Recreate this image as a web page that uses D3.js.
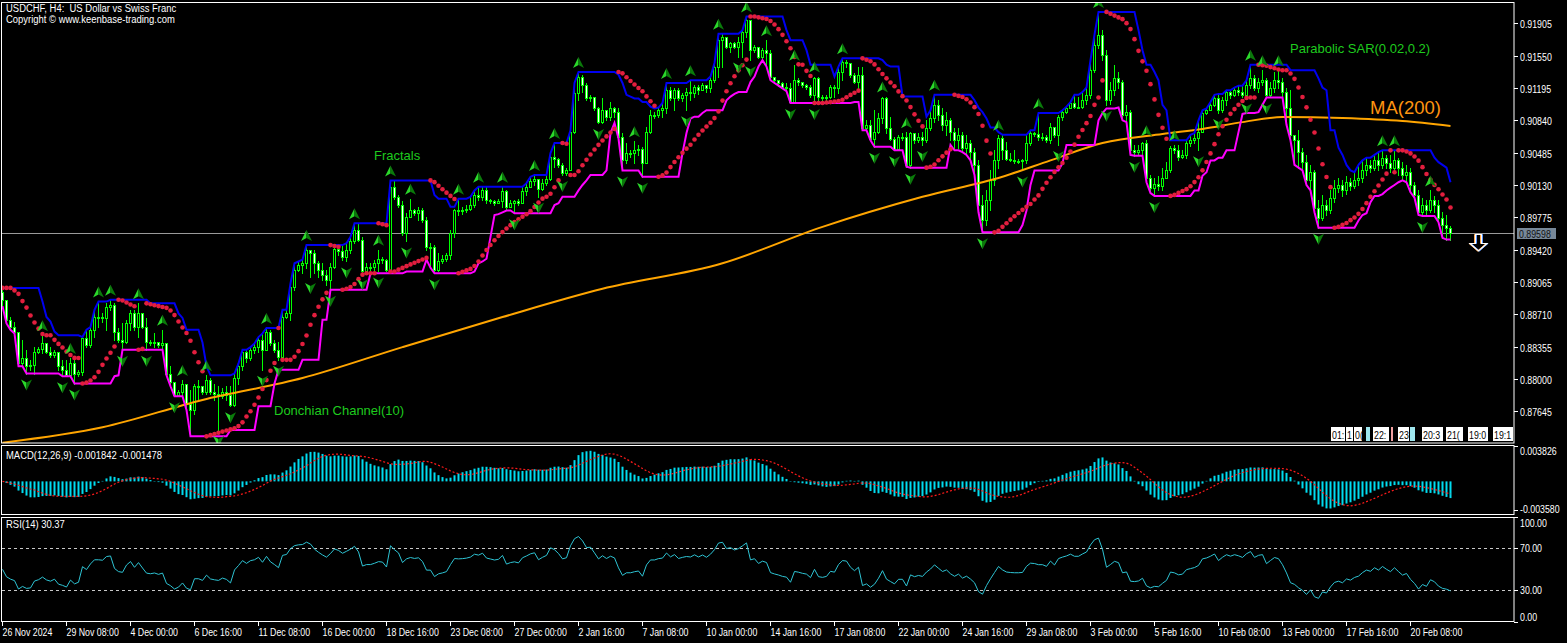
<!DOCTYPE html>
<html><head><meta charset="utf-8">
<script src="https://cdn.jsdelivr.net/npm/d3@7"></script>
<style>html,body{margin:0;padding:0;background:#000;}svg{display:block;}</style>
</head><body>
<svg id="c" width="1567" height="643"></svg>
<script>
// ---------------- DATA ----------------
const firstOpen = 0.8895;
const closes = [0.8887,0.8865,0.8857,0.8852,0.8817,0.8823,0.8814,0.8815,0.8830,0.8833,
0.8839,0.8830,0.8826,0.8830,0.8814,0.8810,0.8804,0.8817,0.8805,0.8808,
0.8845,0.8837,0.8854,0.8868,0.8868,0.8867,0.8879,0.8881,0.8852,0.8843,
0.8841,0.8861,0.8872,0.8857,0.8872,0.8857,0.8841,0.8839,0.8841,0.8837,
0.8840,0.8806,0.8797,0.8782,0.8786,0.8795,0.8773,0.8766,0.8792,0.8792,
0.8786,0.8799,0.8786,0.8783,0.8781,0.8786,0.8782,0.8771,0.8801,0.8814,
0.8830,0.8823,0.8832,0.8835,0.8843,0.8832,0.8852,0.8839,0.8832,0.8824,
0.8868,0.8872,0.8901,0.8920,0.8925,0.8927,0.8942,0.8938,0.8927,0.8920,
0.8914,0.8909,0.8923,0.8943,0.8940,0.8934,0.8942,0.8951,0.8964,0.8953,
0.8918,0.8923,0.8923,0.8927,0.8932,0.8931,0.8920,0.9011,0.9000,0.8991,
0.8960,0.8978,0.8985,0.8982,0.8985,0.8974,0.8945,0.8945,0.8920,0.8929,
0.8932,0.8936,0.8960,0.8985,0.8984,0.8985,0.8987,0.8991,0.9002,0.9000,
0.9007,0.8997,0.8995,0.8993,0.8995,0.9006,0.8989,0.8993,0.8995,0.8993,
0.9006,0.9011,0.9017,0.9020,0.9009,0.9015,0.9020,0.9044,0.9041,0.9035,
0.9026,0.9029,0.9071,0.9114,0.9132,0.9123,0.9108,0.9110,0.9097,0.9082,
0.9095,0.9088,0.9097,0.9093,0.9066,0.9040,0.9048,0.9048,0.9051,0.9053,
0.9037,0.9071,0.9090,0.9090,0.9095,0.9097,0.9117,0.9108,0.9117,0.9108,
0.9112,0.9115,0.9114,0.9121,0.9117,0.9123,0.9119,0.9128,0.9143,0.9172,
0.9176,0.9165,0.9169,0.9165,0.9170,0.9181,0.9194,0.9161,0.9165,0.9154,
0.9161,0.9158,0.9132,0.9128,0.9125,0.9121,0.9119,0.9104,0.9128,0.9126,
0.9123,0.9121,0.9112,0.9130,0.9110,0.9108,0.9110,0.9121,0.9119,0.9137,
0.9148,0.9147,0.9134,0.9126,0.9134,0.9075,0.9079,0.9064,0.9071,0.9086,
0.9108,0.9075,0.9064,0.9053,0.9066,0.9066,0.9035,0.9070,0.9062,0.9066,
0.9062,0.9076,0.9086,0.9101,0.9090,0.9079,0.9084,0.9071,0.9062,0.9068,
0.9054,0.9059,0.9049,0.9035,0.8991,0.8974,0.8997,0.9018,0.9040,0.9065,
0.9051,0.9042,0.9040,0.9039,0.9039,0.9040,0.9059,0.9070,0.9069,0.9066,
0.9066,0.9062,0.9077,0.9068,0.9088,0.9093,0.9097,0.9103,0.9099,0.9099,
0.9106,0.9112,0.9139,0.9167,0.9178,0.9156,0.9106,0.9117,0.9130,0.9126,
0.9090,0.9093,0.9051,0.9049,0.9051,0.9059,0.9021,0.9010,0.9014,0.9012,
0.9021,0.9029,0.9054,0.9051,0.9044,0.9046,0.9059,0.9062,0.9065,0.9071,
0.9092,0.9095,0.9101,0.9109,0.9095,0.9106,0.9115,0.9112,0.9117,0.9115,
0.9112,0.9123,0.9130,0.9120,0.9126,0.9128,0.9112,0.9120,0.9128,0.9126,
0.9115,0.9097,0.9068,0.9062,0.9049,0.9038,0.9018,0.9027,0.8988,0.8977,
0.8991,0.8985,0.8999,0.9010,0.9013,0.9007,0.9016,0.9012,0.9018,0.9021,
0.9029,0.9035,0.9032,0.9040,0.9035,0.9043,0.9037,0.9032,0.9040,0.9032,
0.9024,0.9027,0.9013,0.9002,0.8983,0.8991,0.8985,0.8997,0.8991,0.8977,
0.8969,0.8966,0.89598];
const highs = [0.8900,0.8885,0.8868,0.8863,0.8852,0.8843,0.8832,0.8821,0.8835,0.8835,
0.8848,0.8839,0.8835,0.8832,0.8828,0.8821,0.8821,0.8823,0.8821,0.8810,
0.8846,0.8854,0.8857,0.8876,0.8885,0.8872,0.8883,0.8887,0.8883,0.8856,
0.8861,0.8865,0.8876,0.8876,0.8883,0.8872,0.8867,0.8843,0.8850,0.8841,
0.8854,0.8840,0.8814,0.8797,0.8788,0.8799,0.8795,0.8788,0.8795,0.8799,
0.8792,0.8804,0.8801,0.8795,0.8792,0.8790,0.8792,0.8792,0.8806,0.8817,
0.8832,0.8832,0.8835,0.8839,0.8846,0.8850,0.8856,0.8854,0.8843,0.8841,
0.8876,0.8876,0.8905,0.8927,0.8929,0.8931,0.8947,0.8942,0.8942,0.8929,
0.8927,0.8920,0.8927,0.8945,0.8945,0.8947,0.8949,0.8956,0.8971,0.8971,
0.8956,0.8927,0.8927,0.8931,0.8942,0.8934,0.8932,0.9018,0.9018,0.9002,
0.8995,0.8982,0.8998,0.8987,0.8989,0.8988,0.8978,0.8949,0.8947,0.8938,
0.8936,0.8938,0.8964,0.8987,0.8998,0.8989,0.8991,0.9000,0.9007,0.9011,
0.9011,0.9011,0.8998,0.8997,0.8998,0.9011,0.9007,0.8997,0.8997,0.8998,
0.9011,0.9015,0.9022,0.9024,0.9020,0.9020,0.9024,0.9048,0.9059,0.9043,
0.9037,0.9032,0.9073,0.9125,0.9137,0.9134,0.9125,0.9112,0.9110,0.9099,
0.9108,0.9095,0.9104,0.9099,0.9097,0.9070,0.9059,0.9051,0.9061,0.9057,
0.9055,0.9077,0.9095,0.9093,0.9098,0.9103,0.9125,0.9121,0.9119,0.9119,
0.9114,0.9119,0.9128,0.9123,0.9123,0.9125,0.9123,0.9132,0.9147,0.9179,
0.9179,0.9174,0.9170,0.9170,0.9176,0.9183,0.9198,0.9183,0.9167,0.9165,
0.9163,0.9172,0.9161,0.9131,0.9128,0.9126,0.9125,0.9125,0.9145,0.9130,
0.9126,0.9124,0.9123,0.9132,0.9132,0.9112,0.9112,0.9123,0.9123,0.9143,
0.9152,0.9150,0.9145,0.9136,0.9143,0.9143,0.9084,0.9084,0.9095,0.9092,
0.9110,0.9110,0.9088,0.9066,0.9068,0.9070,0.9071,0.9071,0.9066,0.9070,
0.9071,0.9084,0.9095,0.9112,0.9106,0.9098,0.9093,0.9086,0.9076,0.9076,
0.9071,0.9068,0.9062,0.9054,0.9040,0.9002,0.9007,0.9029,0.9051,0.9068,
0.9068,0.9060,0.9048,0.9051,0.9042,0.9042,0.9068,0.9073,0.9071,0.9092,
0.9070,0.9068,0.9081,0.9077,0.9090,0.9095,0.9099,0.9104,0.9112,0.9110,
0.9115,0.9120,0.9150,0.9178,0.9203,0.9183,0.9161,0.9126,0.9145,0.9137,
0.9128,0.9101,0.9095,0.9057,0.9057,0.9060,0.9062,0.9024,0.9021,0.9023,
0.9032,0.9038,0.9056,0.9057,0.9057,0.9051,0.9062,0.9068,0.9070,0.9084,
0.9095,0.9097,0.9104,0.9112,0.9113,0.9110,0.9117,0.9117,0.9120,0.9122,
0.9122,0.9128,0.9145,0.9134,0.9130,0.9139,0.9130,0.9126,0.9137,0.9139,
0.9130,0.9120,0.9117,0.9068,0.9073,0.9054,0.9046,0.9035,0.9029,0.8997,
0.9002,0.8997,0.9007,0.9018,0.9021,0.9018,0.9023,0.9021,0.9027,0.9035,
0.9040,0.9043,0.9040,0.9046,0.9049,0.9051,0.9046,0.9046,0.9051,0.9043,
0.9038,0.9035,0.9032,0.9016,0.9007,0.8999,0.8997,0.9007,0.9001,0.8997,
0.8983,0.8980,0.8968];
const lows = [0.8880,0.8861,0.8854,0.8850,0.8814,0.8815,0.8806,0.8810,0.8806,0.8828,
0.8828,0.8828,0.8824,0.8824,0.8810,0.8803,0.8803,0.8803,0.8795,0.8803,
0.8804,0.8835,0.8835,0.8846,0.8857,0.8863,0.8854,0.8876,0.8843,0.8841,
0.8832,0.8839,0.8854,0.8854,0.8846,0.8856,0.8832,0.8837,0.8835,0.8835,
0.8834,0.8804,0.8792,0.8781,0.8781,0.8781,0.8766,0.8737,0.8762,0.8777,
0.8784,0.8784,0.8784,0.8777,0.8744,0.8779,0.8777,0.8770,0.8770,0.8795,
0.8810,0.8819,0.8821,0.8828,0.8830,0.8810,0.8832,0.8837,0.8830,0.8821,
0.8821,0.8867,0.8865,0.8898,0.8918,0.8916,0.8922,0.8912,0.8916,0.8912,
0.8909,0.8903,0.8898,0.8922,0.8936,0.8931,0.8929,0.8938,0.8949,0.8951,
0.8916,0.8916,0.8920,0.8920,0.8918,0.8927,0.8918,0.8931,0.8998,0.8989,
0.8958,0.8951,0.8978,0.8980,0.8974,0.8972,0.8942,0.8922,0.8916,0.8918,
0.8927,0.8929,0.8932,0.8956,0.8980,0.8981,0.8983,0.8985,0.8989,0.8997,
0.8997,0.8993,0.8993,0.8991,0.8993,0.8989,0.8985,0.8989,0.8982,0.8991,
0.8993,0.9002,0.9011,0.9013,0.9000,0.9007,0.9013,0.9018,0.9033,0.9033,
0.9024,0.9024,0.9029,0.9070,0.9106,0.9115,0.9106,0.9105,0.9095,0.9081,
0.9081,0.9084,0.9084,0.9088,0.9064,0.9029,0.9037,0.9044,0.9037,0.9046,
0.9022,0.9048,0.9070,0.9086,0.9088,0.9088,0.9092,0.9106,0.9095,0.9106,
0.9105,0.9095,0.9106,0.9110,0.9113,0.9117,0.9115,0.9115,0.9126,0.9132,
0.9143,0.9163,0.9159,0.9163,0.9154,0.9154,0.9176,0.9150,0.9159,0.9152,
0.9152,0.9143,0.9128,0.9125,0.9122,0.9119,0.9116,0.9103,0.9103,0.9123,
0.9121,0.9118,0.9110,0.9103,0.9106,0.9104,0.9105,0.9108,0.9110,0.9114,
0.9128,0.9143,0.9132,0.9125,0.9117,0.9073,0.9073,0.9062,0.9055,0.9070,
0.9081,0.9070,0.9062,0.9051,0.9051,0.9062,0.9033,0.9032,0.9059,0.9060,
0.9057,0.9060,0.9073,0.9082,0.9084,0.9073,0.9068,0.9062,0.9051,0.9054,
0.9049,0.9046,0.9040,0.9024,0.8983,0.8961,0.8969,0.8985,0.9013,0.9032,
0.9042,0.9040,0.9039,0.9037,0.9037,0.9029,0.9037,0.9057,0.9067,0.9062,
0.9062,0.9060,0.9059,0.9066,0.9057,0.9084,0.9092,0.9097,0.9097,0.9097,
0.9098,0.9102,0.9109,0.9137,0.9163,0.9150,0.9101,0.9102,0.9112,0.9120,
0.9084,0.9082,0.9046,0.9045,0.9046,0.9046,0.9016,0.9004,0.9001,0.9007,
0.9007,0.9023,0.9027,0.9048,0.9040,0.9043,0.9043,0.9056,0.9059,0.9051,
0.9071,0.9091,0.9095,0.9100,0.9092,0.9093,0.9101,0.9109,0.9111,0.9112,
0.9110,0.9109,0.9120,0.9117,0.9115,0.9123,0.9109,0.9111,0.9115,0.9120,
0.9111,0.9079,0.9062,0.9035,0.9032,0.9029,0.9013,0.9007,0.8983,0.8966,
0.8974,0.8980,0.8982,0.8994,0.9005,0.9001,0.9003,0.9007,0.9010,0.9013,
0.9016,0.9024,0.9027,0.9029,0.9029,0.9032,0.9032,0.9027,0.9029,0.9024,
0.9018,0.9016,0.9005,0.8999,0.8980,0.8979,0.8980,0.8983,0.8983,0.8972,
0.8955,0.8953,0.8953];
// MA(200) at these bar indices
const maBars = [0,25,50,75,100,125,150,180,205,230,250,262,275,290,300,310,320,335,350,362];
const maValues = [0.8730,0.8747,0.8777,0.8801,0.8835,0.8868,0.8899,0.8927,0.8967,0.9000,0.9022,0.9040,0.9059,0.9069,0.90745,0.9082,0.90876,0.90865,0.90832,0.90778];
const priceTicks = [0.91905,0.91550,0.91195,0.90840,0.90485,0.90130,0.89775,0.89420,0.89065,0.88710,0.88355,0.88000,0.87645];
const macdTicks = [0.003826,-0.003580];
const rsiTicks = [100,70,30,0];
const timeLabels = ["26 Nov 2024","29 Nov 08:00","4 Dec 00:00","6 Dec 16:00","11 Dec 08:00","16 Dec 00:00","18 Dec 16:00","23 Dec 08:00","27 Dec 00:00","2 Jan 16:00","7 Jan 08:00","10 Jan 00:00","14 Jan 16:00","17 Jan 08:00","22 Jan 00:00","24 Jan 16:00","29 Jan 08:00","3 Feb 00:00","5 Feb 16:00","10 Feb 08:00","13 Feb 00:00","17 Feb 16:00","20 Feb 08:00"];
const lastPrice = 0.89598;
const eventLabels = [["01:",1331,1345],["1",1346,1353],["0(",1354,1362],["",1366,1370,"#9fe7ef"],["22:",1373,1389],["",1391,1393,"#f2a0a0"],["23(",1398,1409],["",1410,1415,"#9fe7ef"],["20:3",1422,1443],["21(",1446,1463],["19:0",1468,1488],["19:1",1493,1513]];

// ---------------- LAYOUT ----------------
const FS = "'Liberation Sans',Arial,sans-serif";
const R = 1514;
const svg = d3.select('#c');
svg.append('rect').attr('width',1567).attr('height',643).attr('fill','#000');
const defs = svg.append('defs');
defs.append('clipPath').attr('id','cm').append('rect').attr('x',2).attr('y',3).attr('width',R-2).attr('height',440);
defs.append('clipPath').attr('id','cd').append('rect').attr('x',2).attr('y',446).attr('width',R-2).attr('height',68);
defs.append('clipPath').attr('id','cr').append('rect').attr('x',2).attr('y',518).attr('width',R-2).attr('height',103);

// condensed text helper (MT4 uses a narrow bitmap font)
function ctext(tx, ty, str, fill, size, sx){
  return svg.append('text').attr('transform',`translate(${tx},${ty}) scale(${sx||0.8},1)`)
    .attr('x',0).attr('y',0).text(str).attr('fill',fill).attr('font-family',FS).attr('font-size',size||11);
}

const n = closes.length;
const x = d3.scaleLinear().domain([0,1]).range([2.5,6.5]);
const y = d3.scaleLinear().domain([0.87645,0.91905]).range([411.3,23.3]);
const my = d3.scaleLinear().domain([-0.003580,0.003826]).range([514.5,446]);
const ry = d3.scaleLinear().domain([0,100]).range([621.8,516.8]);

const bars = closes.map((c,i)=>{
  const o = i ? closes[i-1] : firstOpen;
  return {i, o, c, h: Math.max(highs[i],o,c), l: Math.min(lows[i],o,c)};
});

// ---------------- INDICATORS ----------------
const dUp = bars.map((b,i)=> d3.max(highs.slice(Math.max(0,i-9), i+1)));
const dLo = bars.map((b,i)=> d3.min(lows.slice(Math.max(0,i-9), i+1)));
const sar = new Array(n);
{
  let up = false, af = 0.02, ep = lows[0], s = highs[0];
  sar[0] = s;
  for (let i=1;i<n;i++){
    let ns = s + af*(ep - s);
    if (!up){
      ns = Math.max(ns, highs[i-1], i>1?highs[i-2]:highs[i-1]);
      if (highs[i] > ns){ up = true; ns = ep; ep = highs[i]; af = 0.02; }
      else if (lows[i] < ep){ ep = lows[i]; af = Math.min(af+0.02,0.2); }
    } else {
      ns = Math.min(ns, lows[i-1], i>1?lows[i-2]:lows[i-1]);
      if (lows[i] < ns){ up = false; ns = ep; ep = lows[i]; af = 0.02; }
      else if (highs[i] > ep){ ep = highs[i]; af = Math.min(af+0.02,0.2); }
    }
    s = ns; sar[i] = s;
  }
}
const fracUp = [], fracDn = [];
for (let i=2;i<n-2;i++){
  if (highs[i]>highs[i-1] && highs[i]>highs[i-2] && highs[i]>=highs[i+1] && highs[i]>=highs[i+2]) fracUp.push(i);
  if (lows[i]<lows[i-1] && lows[i]<lows[i-2] && lows[i]<=lows[i+1] && lows[i]<=lows[i+2]) fracDn.push(i);
}
const macd = [], sig = [];
{
  let e12 = closes[0], e26 = closes[0];
  closes.forEach((c,i)=>{
    e12 = e12 + (2/13)*(c-e12);
    e26 = e26 + (2/27)*(c-e26);
    macd.push(e12-e26);
    sig.push(d3.mean(macd.slice(Math.max(0,i-8), i+1)));
  });
}
const rsi = [];
{
  const diffs = closes.map((c,i)=> i? c-closes[i-1] : 0);
  const seed = d3.mean(diffs.slice(1,15).map(Math.abs))/2;
  let ag = seed, al = seed;
  closes.forEach((c,i)=>{
    if (i){ const d = diffs[i]; ag = (ag*13+Math.max(d,0))/14; al = (al*13+Math.max(-d,0))/14; }
    rsi.push(100*ag/(ag+al));
  });
}

// ---------------- MAIN PANEL ----------------
const gm = svg.append('g').attr('clip-path','url(#cm)');
gm.append('line').attr('x1',2).attr('x2',R).attr('y1',Math.round(y(lastPrice))+0.5).attr('y2',Math.round(y(lastPrice))+0.5).attr('stroke','#9a9a9a');
gm.selectAll('line.wk').data(bars).join('line').attr('class','wk')
  .attr('x1',d=>x(d.i)).attr('x2',d=>x(d.i)).attr('y1',d=>Math.round(y(d.h))).attr('y2',d=>Math.round(y(d.l))+1)
  .attr('stroke','#00ff00').attr('stroke-width',1);
gm.selectAll('rect.bd').data(bars).join('rect').attr('class','bd')
  .attr('x',d=>x(d.i)-1).attr('width',2)
  .attr('y',d=>Math.round(y(Math.max(d.o,d.c)))+0.5)
  .attr('height',d=>Math.max(1, Math.round(y(Math.min(d.o,d.c)))-Math.round(y(Math.max(d.o,d.c)))))
  .attr('fill',d=>d.c>=d.o?'#000':'#fff').attr('stroke','#00ff00').attr('stroke-width',1);
gm.append('path').datum(maBars.map((b,k)=>[b,maValues[k]]))
  .attr('d',d3.line().x(d=>x(d[0])).y(d=>y(d[1])).curve(d3.curveMonotoneX))
  .attr('fill','none').attr('stroke','#ffa500').attr('stroke-width',2);
const dl = d3.line().x((d,i)=>x(i)).y(d=>y(d));
gm.append('path').datum(dUp).attr('d',dl).attr('fill','none').attr('stroke','#0000f0').attr('stroke-width',2);
gm.append('path').datum(dLo).attr('d',dl).attr('fill','none').attr('stroke','#ff00ff').attr('stroke-width',2);
gm.selectAll('circle.sar').data(sar).join('circle').attr('class','sar')
  .attr('cx',(d,i)=>x(i)).attr('cy',d=>y(d)).attr('r',2.3).attr('fill','#e21e3e');
const fU = gm.selectAll('g.fu').data(fracUp).join('g').attr('class','fu')
  .attr('transform',i=>`translate(${x(i)},${y(highs[i])-9})`);
fU.append('path').attr('d','M0,-6L-5.5,5L0,2Z').attr('fill','#2bd82b');
fU.append('path').attr('d','M0,-6L5.5,5L0,2Z').attr('fill','#0a7a0a');
const fD = gm.selectAll('g.fd').data(fracDn).join('g').attr('class','fd')
  .attr('transform',i=>`translate(${x(i)},${y(lows[i])+11})`);
fD.append('path').attr('d','M0,6L-5.5,-5L0,-2Z').attr('fill','#2bd82b');
fD.append('path').attr('d','M0,6L5.5,-5L0,-2Z').attr('fill','#0a7a0a');

// annotations
svg.append('text').attr('x',374).attr('y',160).text('Fractals').attr('fill','#1ecb1e').attr('font-family',FS).attr('font-size',13);
svg.append('text').attr('x',274).attr('y',415).text('Donchian Channel(10)').attr('fill','#1ecb1e').attr('font-family',FS).attr('font-size',13);
svg.append('text').attr('x',1290).attr('y',53).text('Parabolic SAR(0.02,0.2)').attr('fill','#1ecb1e').attr('font-family',FS).attr('font-size',13);
svg.append('text').attr('x',1370).attr('y',114).text('MA(200)').attr('fill','#ff9410').attr('font-family',FS).attr('font-size',18.5);
ctext(6,11.5,'USDCHF, H4:  US Dollar vs Swiss Franc','#fff',11,0.86).style('white-space','pre');
ctext(6,23,'Copyright © www.keenbase-trading.com','#fff',11,0.86);

// down arrow
const arrowD = 'M1475.5,234.5V243.5H1470L1478.5,251L1487,243.5H1481.5V234.5Z';
svg.append('path').attr('d',arrowD).attr('fill','none').attr('stroke','#4a8cff').attr('transform','translate(1,0)');
svg.append('path').attr('d',arrowD).attr('fill','none').attr('stroke','#ffa040').attr('transform','translate(-1,0)');
svg.append('path').attr('d',arrowD).attr('fill','none').attr('stroke','#fff').attr('stroke-width',1.2);

// event labels bottom-right
eventLabels.forEach(e=>{
  svg.append('rect').attr('x',e[1]).attr('y',427).attr('width',e[2]-e[1]).attr('height',14).attr('fill',e[3]||'#fff');
  if (e[0]) ctext(e[1]+1,438.5,e[0],'#000',11,0.8);
});

// right price axis
priceTicks.forEach(p=>{
  const yy = Math.round(y(p))+0.5;
  svg.append('line').attr('x1',R).attr('x2',R+4).attr('y1',yy).attr('y2',yy).attr('stroke','#fff');
  ctext(R+6,yy+4,p.toFixed(5),'#fff',11,0.8);
});
{
  const yy = Math.round(y(lastPrice));
  svg.append('rect').attr('x',R+3).attr('y',yy-5).attr('width',39).attr('height',11).attr('fill','#778899');
  ctext(R+5,yy+4.5,lastPrice.toFixed(5),'#111',11,0.8);
}

// ---------------- MACD PANEL ----------------
const gd = svg.append('g').attr('clip-path','url(#cd)');
gd.selectAll('rect.h').data(macd).join('rect').attr('class','h')
  .attr('x',(d,i)=>x(i)-1).attr('width',2)
  .attr('y',d=>Math.min(my(d),my(0))).attr('height',d=>Math.abs(my(d)-my(0)))
  .attr('fill','#00dcf0');
gd.append('path').datum(sig).attr('d',d3.line().x((d,i)=>x(i)).y(d=>my(d)))
  .attr('fill','none').attr('stroke','#ff1a1a').attr('stroke-width',1.2).attr('stroke-dasharray','2,2');
ctext(6,458.5,'MACD(12,26,9) -0.001842 -0.001478','#fff',11,0.86);
ctext(R+6,455,macdTicks[0].toFixed(6),'#fff',11,0.8);
ctext(R+6,513,macdTicks[1].toFixed(6),'#fff',11,0.8);
svg.append('line').attr('x1',R).attr('x2',R+4).attr('y1',446.5).attr('y2',446.5).attr('stroke','#fff');
svg.append('line').attr('x1',R).attr('x2',R+4).attr('y1',510.5).attr('y2',510.5).attr('stroke','#fff');

// ---------------- RSI PANEL ----------------
const gr = svg.append('g').attr('clip-path','url(#cr)');
[70,30].forEach(v=>{
  gr.append('line').attr('x1',2).attr('x2',R).attr('y1',Math.round(ry(v))+0.5).attr('y2',Math.round(ry(v))+0.5)
    .attr('stroke','#c8c8c8').attr('stroke-dasharray','3,3');
});
gr.append('path').datum(rsi).attr('d',d3.line().x((d,i)=>x(i)).y(d=>ry(d)))
  .attr('fill','none').attr('stroke','#2ec4d4').attr('stroke-width',1);
ctext(6,527.5,'RSI(14) 30.37','#fff',11,0.86);
rsiTicks.forEach(v=>{
  const yy = ry(v); let ty = yy+4;
  if (v===100) ty = yy+10; if (v===0) ty = yy-1;
  svg.append('line').attr('x1',R).attr('x2',R+4).attr('y1',Math.round(yy)+0.5).attr('y2',Math.round(yy)+0.5).attr('stroke','#fff');
  ctext(R+6,ty,v.toFixed(2),'#fff',11,0.8);
});

// ---------------- FRAMES ----------------
[[2.5,440.5],[445.5,69],[517.5,104]].forEach(f=>{
  svg.append('rect').attr('x',1.5).attr('y',f[0]).attr('width',R-1.5).attr('height',f[1]).attr('fill','none').attr('stroke','#fff');
});

// ---------------- TIME AXIS ----------------
timeLabels.forEach((t,k)=>{
  const xx = x(k*16);
  svg.append('line').attr('x1',xx).attr('x2',xx).attr('y1',622).attr('y2',626).attr('stroke','#fff');
  ctext(xx,636,t,'#fff',11,0.8);
});
</script>
</body></html>
